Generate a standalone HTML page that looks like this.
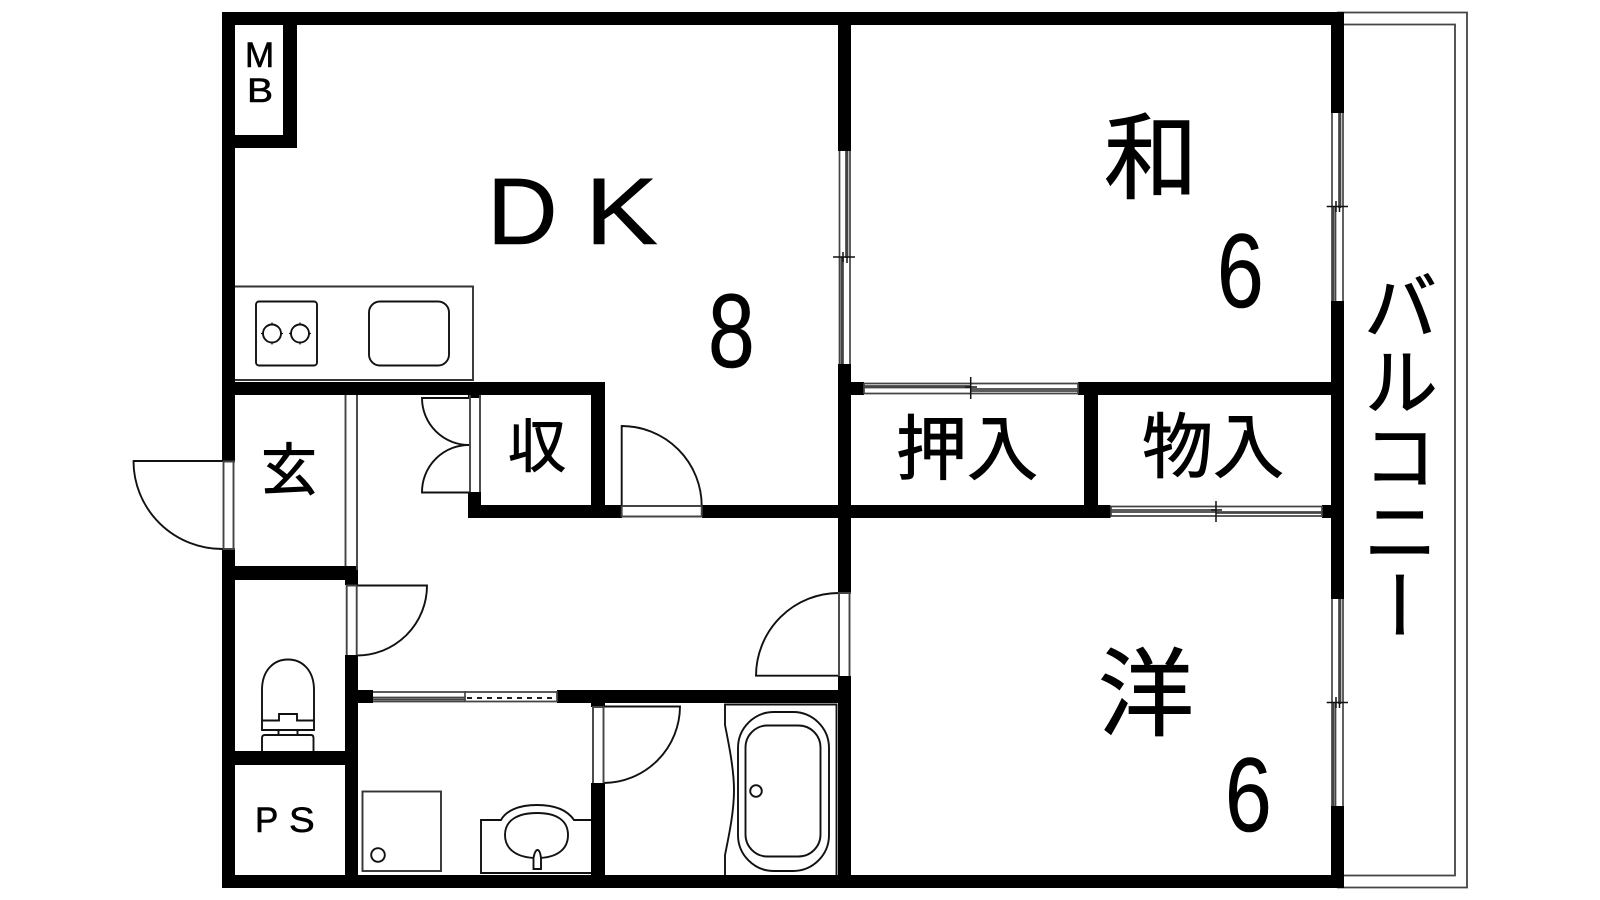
<!DOCTYPE html>
<html><head><meta charset="utf-8"><style>
html,body{margin:0;padding:0;background:#fff;width:1600px;height:900px;overflow:hidden}
svg{position:absolute;left:0;top:0}
.j{font-family:"Liberation Sans","Noto Sans CJK JP",sans-serif;fill:#000;stroke:#000;stroke-width:.9}
.l{font-family:"Liberation Sans",sans-serif;fill:#000;stroke:#000;stroke-width:.6}
.v{position:absolute;left:1360px;top:268px;width:80px;font:75px/80px "Noto Sans CJK JP",sans-serif;writing-mode:vertical-rl;color:#000;white-space:nowrap;-webkit-text-stroke:.9px #000}
</style></head><body>
<svg width="1600" height="900" viewBox="0 0 1600 900" xmlns="http://www.w3.org/2000/svg">
<rect width="1600" height="900" fill="#fff"/>
<!-- balcony -->
<g fill="none" stroke="#444" stroke-width="1.8">
<path d="M1337 12.500H1467V887.500H1337"/>
<path d="M1344 24.500H1455V875.500H1344"/>
</g>
<!-- walls -->
<g fill="#000">
<rect x="222" y="12" width="1122" height="13"/>
<rect x="222" y="875" width="1122" height="13"/>
<rect x="222" y="12" width="13" height="449"/>
<rect x="222" y="549" width="13" height="339"/>
<rect x="283" y="25" width="14" height="123"/>
<rect x="222" y="135" width="75" height="13"/>
<rect x="222" y="382" width="383" height="13"/>
<rect x="591" y="382" width="14" height="136"/>
<rect x="468" y="382" width="13" height="16"/>
<rect x="468" y="492" width="13" height="26"/>
<rect x="468" y="505" width="154" height="13"/>
<rect x="702" y="505" width="408.500" height="13"/>
<rect x="222" y="566" width="136" height="14"/>
<rect x="345" y="566" width="13" height="19"/>
<rect x="345" y="655" width="13" height="233"/>
<rect x="222" y="751" width="136" height="14"/>
<rect x="345" y="690" width="28" height="13"/>
<rect x="557" y="690" width="294" height="13"/>
<rect x="591" y="690" width="14" height="17"/>
<rect x="591" y="783" width="14" height="105"/>
<rect x="838" y="12" width="13" height="139"/>
<rect x="838" y="364" width="13" height="229"/>
<rect x="838" y="676" width="13" height="212"/>
<rect x="851" y="382" width="13" height="13"/>
<rect x="1078" y="382" width="266" height="13"/>
<rect x="1084" y="382" width="14" height="136"/>
<rect x="1322" y="505" width="22" height="13"/>
<rect x="1331" y="12" width="13" height="101"/>
<rect x="1331" y="301" width="13" height="298"/>
<rect x="1331" y="806" width="13" height="82"/>
</g>
<!-- thin fixtures -->
<g fill="none" stroke="#111" stroke-width="1.900">
<!-- counter -->
<path d="M235 286.500H473V380H235" stroke="#333"/>
<rect x="256" y="301.500" width="61" height="64" rx="3"/>
<rect x="369" y="301.500" width="80" height="64" rx="11"/>
<circle cx="272" cy="333.500" r="9"/><circle cx="300" cy="333.500" r="9"/>
<path d="M261 333.500h3M280 333.500h3M272 322.500v3M272 341.500v3M289 333.500h3M308 333.500h3M300 322.500v3M300 341.500v3" stroke-width="1.200"/>
<!-- genkan partition -->
<path d="M345.500 395V566M357 395V570" stroke="#444"/>
<!-- entrance door -->
<path d="M223 461H133.500A89 88 0 0 0 223 549" stroke-linejoin="round"/>
<path d="M223.500 461V549M233.500 461V549M223 461.500H235M223 549H235" stroke="#444"/>
<!-- closet double door -->
<path d="M470 398H422A47 47 0 0 0 470 445A47 47 0 0 0 422 492.500H470"/>
<path d="M470 395V492M480 395V492" stroke="#444"/>
<!-- dk door -->
<path d="M621.700 506V426A80 80 0 0 1 701.700 506"/>
<path d="M621.700 506H701.700M621.700 516.500H701.700M621.700 506V517M701.700 506V517" stroke="#444"/>
<!-- toilet door -->
<path d="M357 585.500H427A70 70 0 0 1 357 655.500"/>
<path d="M346.700 585V655M356.700 585V655M346 585.500H357" stroke="#444"/>
<!-- western room door -->
<path d="M839 593A83 83 0 0 0 756 675.700H839"/>
<path d="M839 593V676M849.500 593V676M838 593H851" stroke="#444"/>
<!-- bath door -->
<path d="M603.500 706.500H680A77 77 0 0 1 603.500 783"/>
<path d="M593 707V783M603.500 707V783M592 707H604" stroke="#444"/>
<!-- toilet -->
<path d="M262 721V690C262 670 274 659.500 288 659.500C302 659.500 314 670 314 690V721"/>
<path d="M262 720.500H279V714H297V720.500H314V730H262Z"/>
<path d="M278.500 730V735M297.500 730V735"/>
<path d="M262 751V738Q262 735 265 735H311Q313.500 735 313.500 738V751"/>
<!-- washer pan -->
<rect x="362.500" y="791.500" width="78.500" height="79.500" stroke="#333"/>
<circle cx="378" cy="855" r="6.800"/>
<!-- sink -->
<path d="M591 820H574C568 811 556 805 537 805C518 805 506 811 501 820H481V873H591"/>
<path d="M505 835C505 820 518 813 537 813C556 813 568 820 568 835C568 850 556 858 537 858C518 858 505 850 505 835Z"/>
<path d="M533.500 869V858Q535 850 537.500 850Q540 850 541 858V869Z" fill="#fff"/>
<!-- bath -->
<path d="M836.500 875V704.500H725V725C729 745 734 770 734 790C734 812 729 835 725 855V875"/>
<rect x="738" y="712" width="91" height="159" rx="36"/>
<rect x="745.500" y="725.500" width="75" height="131" rx="22"/>
<circle cx="756" cy="791" r="5.800"/>
</g>
<!-- sliding door laundry -->
<g fill="none" stroke="#444" stroke-width="1.700">
<path d="M373 692H557M373 701.500H557M373 697.500H465M373 699.500H465M465 691V702M557 691V702"/>
<path d="M467 698H557" stroke="#000" stroke-dasharray="5 5"/>
</g>
<!-- sliding windows -->
<g fill="none" stroke="#444" stroke-width="1.700">
<path d="M864 383.500H1078M864 393.500H1078M864 386H970M864 387.500H970M970 389H1078M970 391H1078M864 383V394M1078 383V394"/>
<path d="M1111 506.500H1322M1111 516H1322M1111 510H1216M1111 512H1216M1216 512H1322M1216 513H1322M1111 506V517M1322 506V517"/>
<path d="M839.500 151V364M850 151V364M846 151V258M847.500 151V258M841.500 257V364M843 257V364"/>
<path d="M1332 113V301M1343 113V301M1339 113V208M1340.500 113V208M1333.500 206V301M1335.500 206V301"/>
<path d="M1332 599V806M1343 599V806M1339 599V704M1340.500 599V704M1333.500 702V806M1335.500 702V806"/>
</g>
<g stroke="#111" stroke-width="1.500" fill="none">
<path d="M970.700 377V399M965 387H977"/>
<path d="M1216 501V522M1211 510H1222"/>
<path d="M833 257H855M843 252V262M847 257V263"/>
<path d="M1326.700 206.500H1348M1336 201V212M1339.500 206V212"/>
<path d="M1326.700 702.500H1348M1336 697V708M1339.500 702V708"/>
</g>
<!-- text -->
<text class="l" font-size="35" transform="translate(245,67)">M</text>
<text class="l" font-size="34" transform="translate(247,102) scale(1.150,1)">B</text>
<text class="l" font-size="95" transform="translate(487,244) scale(1.030,1)">D</text>
<text class="l" font-size="95" transform="translate(585,244) scale(1.150,1)">K</text>
<text class="l" font-size="105" transform="translate(708,367) scale(.8,1)">8</text>
<text class="l" font-size="105" transform="translate(1217,307) scale(.8,1)">6</text>
<text class="l" font-size="105" transform="translate(1225,831) scale(.8,1)">6</text>
<text class="j" font-size="94" x="1104" y="191">和</text>
<text class="j" font-size="96" x="1098" y="728">洋</text>
<text class="j" font-size="56" x="261" y="490">玄</text>
<text class="j" font-size="58" x="508" y="467">収</text>
<text class="j" font-size="71" x="896" y="474">押入</text>
<text class="j" font-size="71" x="1142" y="472">物入</text>
<text class="l" font-size="35" transform="translate(255,832)">P</text>
<text class="l" font-size="35" transform="translate(289,832) scale(1.100,1)">S</text>
</svg>
<div class="v">バルコニー</div>
</body></html>
